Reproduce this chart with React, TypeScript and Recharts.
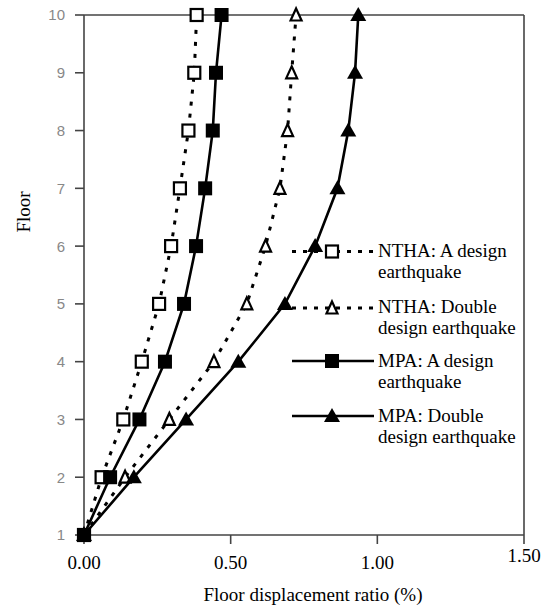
import React from 'react';
import { ScatterChart, Scatter, XAxis, YAxis, ReferenceLine, Label } from 'recharts';

const floors = [1, 2, 3, 4, 5, 6, 7, 8, 9, 10];
const nthaDesign = [0, 0.06, 0.134, 0.197, 0.256, 0.297, 0.327, 0.356, 0.376, 0.384];
const nthaDouble = [0, 0.14, 0.291, 0.443, 0.555, 0.619, 0.668, 0.694, 0.708, 0.723];
const mpaDesign = [0, 0.089, 0.189, 0.276, 0.341, 0.382, 0.413, 0.439, 0.45, 0.469];
const mpaDouble = [0, 0.17, 0.348, 0.526, 0.685, 0.788, 0.864, 0.901, 0.924, 0.935];
const xTicks = [0, 0.5, 1, 1.5];
const yTicks = [1, 2, 3, 4, 5, 6, 7, 8, 9, 10];

const legendItems = [
  { lines: ['NTHA: A design', 'earthquake'], shape: 'openSquare', dashed: true },
  { lines: ['NTHA: Double', 'design earthquake'], shape: 'openTriangle', dashed: true },
  { lines: ['MPA: A design', 'earthquake'], shape: 'filledSquare', dashed: false },
  { lines: ['MPA: Double', 'design earthquake'], shape: 'filledTriangle', dashed: false },
];

const toPoints = (vals: number[]) => vals.map((v, i) => ({ x: v, y: floors[i] }));

const SERIF = '"Liberation Serif", "Times New Roman", serif';
const SANS = '"Liberation Sans", Arial, sans-serif';
const DASH = '4 8';

function Marker({ kind, cx, cy }: { kind: string; cx: number; cy: number }) {
  if (cx == null || cy == null || isNaN(cx) || isNaN(cy)) return null;
  if (kind === 'openSquare') {
    return <rect x={cx - 6} y={cy - 6} width={12} height={12} fill="#fff" stroke="#000" strokeWidth={2.2} />;
  }
  if (kind === 'filledSquare') {
    return <rect x={cx - 7} y={cy - 7} width={14} height={14} fill="#000" />;
  }
  if (kind === 'openTriangle') {
    return (
      <polygon
        points={`${cx},${cy - 6.5} ${cx + 5.5},${cy + 5.5} ${cx - 5.5},${cy + 5.5}`}
        fill="#fff"
        stroke="#000"
        strokeWidth={2.2}
        strokeLinejoin="miter"
      />
    );
  }
  return <polygon points={`${cx},${cy - 8} ${cx + 8},${cy + 6} ${cx - 8},${cy + 6}`} fill="#000" />;
}

const shapeFor = (kind: string) => (props: any) => <Marker kind={kind} cx={props.cx} cy={props.cy} />;

const XTick = (props: any) => {
  const { x, y, payload } = props;
  const raise = payload.value === 1.5 ? -7 : 0;
  return (
    <text x={x} y={y + raise} dy="0.71em" textAnchor="middle" fontFamily={SERIF} fontSize={19} fill="#000">
      {Number(payload.value).toFixed(2)}
    </text>
  );
};

const YTick = (props: any) => {
  const { x, y, payload } = props;
  return (
    <text x={x} y={y} dy="0.36em" textAnchor="end" fontFamily={SANS} fontSize={15} fill="#888">
      {payload.value}
    </text>
  );
};

const series = [
  { name: 'NTHA: A design earthquake', vals: nthaDesign, kind: 'openSquare', dashed: true },
  { name: 'NTHA: Double design earthquake', vals: nthaDouble, kind: 'openTriangle', dashed: true },
  { name: 'MPA: A design earthquake', vals: mpaDesign, kind: 'filledSquare', dashed: false },
  { name: 'MPA: Double design earthquake', vals: mpaDouble, kind: 'filledTriangle', dashed: false },
];

function LegendOverlay() {
  const rows = [251.5, 308, 361, 416];
  const textRows = [257, 313, 367, 422];
  return (
    <svg width={545} height={606} style={{ position: 'absolute', left: 0, top: 0, pointerEvents: 'none' }}>
      {legendItems.map((it, i) => (
        <g key={i}>
          <line
            x1={292}
            x2={374}
            y1={rows[i]}
            y2={rows[i]}
            stroke="#000"
            strokeWidth={it.dashed ? 3 : 2.6}
            strokeDasharray={it.dashed ? '4 7' : undefined}
          />
          <Marker kind={it.shape} cx={332} cy={rows[i]} />
          {it.lines.map((t, j) => (
            <text key={j} x={378} y={textRows[i] + j * 20.5} fontFamily={SERIF} fontSize={19} fill="#000">
              {t}
            </text>
          ))}
        </g>
      ))}
    </svg>
  );
}

export default function App() {
  return (
    <div style={{ position: 'absolute', left: 0, top: 0, width: 545, height: 606, background: '#fff' }}>
      <ScatterChart width={545} height={606} margin={{ top: 15, right: 21, bottom: 0, left: 0 }}>
        <XAxis
          type="number"
          dataKey="x"
          domain={[0, 1.5]}
          ticks={xTicks}
          height={71}
          tickSize={9}
          tickMargin={12}
          tick={<XTick />}
          stroke="#444"
          strokeWidth={1.6}
        >
          <Label
            content={() => (
              <text x={313} y={601} textAnchor="middle" fontFamily={SERIF} fontSize={19} fill="#000">
                Floor displacement ratio (%)
              </text>
            )}
          />
        </XAxis>
        <YAxis
          type="number"
          dataKey="y"
          domain={[1, 10]}
          ticks={yTicks}
          width={84}
          tickSize={9}
          tickMargin={10}
          tick={<YTick />}
          stroke="#444"
          strokeWidth={1.6}
        >
          <Label
            content={() => (
              <text
                x={30}
                y={212}
                textAnchor="middle"
                transform="rotate(-90 30 212)"
                fontFamily={SERIF}
                fontSize={19}
                fill="#000"
              >
                Floor
              </text>
            )}
          />
        </YAxis>
        <ReferenceLine y={10} stroke="#444" strokeWidth={1.6} />
        <ReferenceLine x={1.5} stroke="#444" strokeWidth={1.6} />
        {series.map((s) => (
          <Scatter
            key={s.name}
            name={s.name}
            data={toPoints(s.vals)}
            fill="#000"
            line={
              s.dashed
                ? { stroke: '#000', strokeWidth: 3, strokeDasharray: DASH }
                : { stroke: '#000', strokeWidth: 2.6 }
            }
            lineType="joint"
            shape={shapeFor(s.kind)}
            isAnimationActive={false}
          />
        ))}
      </ScatterChart>
      <LegendOverlay />
    </div>
  );
}
